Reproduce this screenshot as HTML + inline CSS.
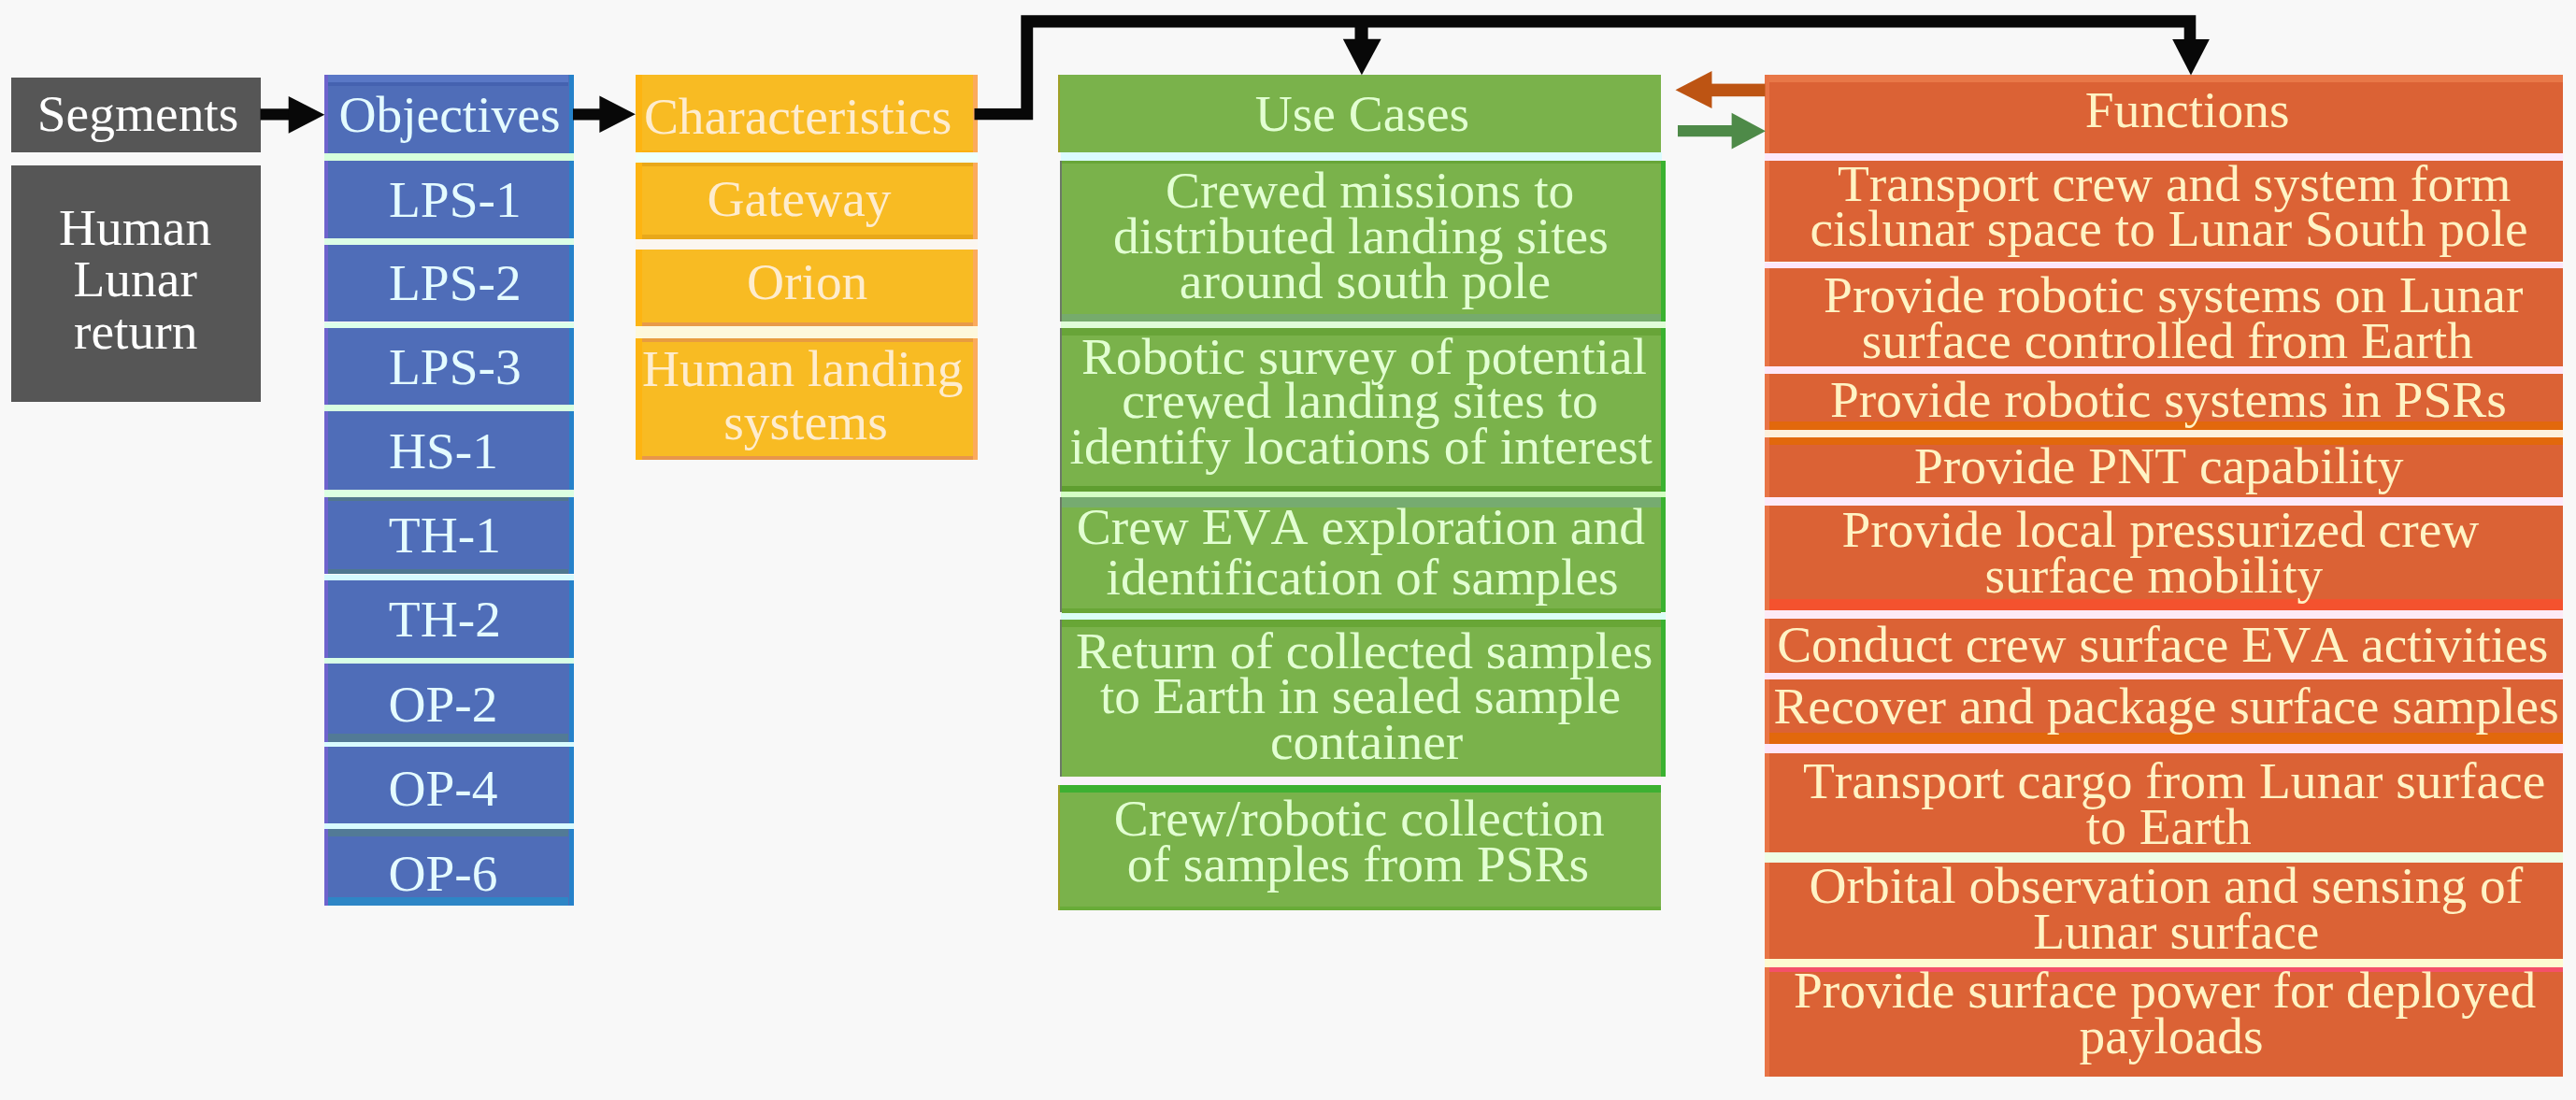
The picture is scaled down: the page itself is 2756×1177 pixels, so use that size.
<!DOCTYPE html>
<html><head><meta charset="utf-8"><title>Diagram</title>
<style>
html,body{margin:0;padding:0;}
body{width:2756px;height:1177px;background:#f8f8f8;position:relative;overflow:hidden;font-family:"Liberation Serif",serif;}
.b{position:absolute;}
.t{font-kerning:none;font-variant-ligatures:none;position:absolute;white-space:nowrap;font-size:55.45px;line-height:55.45px;height:55.45px;}
svg{position:absolute;left:0;top:0;}
</style></head><body>
<div class="b" style="left:11.8px;top:82.5px;width:267.0px;height:80.5px;background:#565656"></div>
<div class="b" style="left:11.8px;top:176.5px;width:267.2px;height:253.5px;background:#565656"></div>
<div class="b" style="left:346.5px;top:80px;width:267.1px;height:83.8px;background:#4f6db8"></div>
<div class="b" style="left:346.5px;top:172px;width:267.1px;height:82.5px;background:#4f6db8"></div>
<div class="b" style="left:346.5px;top:261.8px;width:267.1px;height:82.7px;background:#4f6db8"></div>
<div class="b" style="left:346.5px;top:351.3px;width:267.1px;height:81.7px;background:#4f6db8"></div>
<div class="b" style="left:346.5px;top:440.4px;width:267.1px;height:83.2px;background:#4f6db8"></div>
<div class="b" style="left:346.5px;top:532.4px;width:267.1px;height:82.1px;background:#4f6db8"></div>
<div class="b" style="left:346.5px;top:621px;width:267.1px;height:83.1px;background:#4f6db8"></div>
<div class="b" style="left:346.5px;top:710.4px;width:267.1px;height:83.2px;background:#4f6db8"></div>
<div class="b" style="left:346.5px;top:799.1px;width:267.1px;height:82.3px;background:#4f6db8"></div>
<div class="b" style="left:346.5px;top:886.9px;width:267.1px;height:82.2px;background:#4f6db8"></div>
<div class="b" style="left:680px;top:80.4px;width:365.5px;height:82.6px;background:#f8bb23"></div>
<div class="b" style="left:680px;top:174px;width:365.5px;height:82px;background:#f8bb23"></div>
<div class="b" style="left:680px;top:266.5px;width:365.5px;height:82.5px;background:#f8bb23"></div>
<div class="b" style="left:680px;top:362px;width:365.5px;height:130.4px;background:#f8bb23"></div>
<div class="b" style="left:1131.8px;top:80px;width:645.7px;height:83.3px;background:#7ab24b"></div>
<div class="b" style="left:1135px;top:172.2px;width:646.5px;height:171.5px;background:#7ab24b"></div>
<div class="b" style="left:1135px;top:351.4px;width:646.5px;height:174.7px;background:#7ab24b"></div>
<div class="b" style="left:1135px;top:531.8px;width:646.5px;height:123.7px;background:#7ab24b"></div>
<div class="b" style="left:1135px;top:663px;width:646.5px;height:167.9px;background:#7ab24b"></div>
<div class="b" style="left:1131.8px;top:840px;width:645.7px;height:133.6px;background:#7ab24b"></div>
<div class="b" style="left:1888.3px;top:80.4px;width:854.1px;height:83.2px;background:#db6235"></div>
<div class="b" style="left:1888.3px;top:171.8px;width:854.1px;height:108.7px;background:#db6235"></div>
<div class="b" style="left:1888.3px;top:287.3px;width:854.1px;height:104.5px;background:#db6235"></div>
<div class="b" style="left:1888.3px;top:399.6px;width:854.1px;height:60.4px;background:#db6235"></div>
<div class="b" style="left:1888.3px;top:468.2px;width:854.1px;height:64.1px;background:#db6235"></div>
<div class="b" style="left:1888.3px;top:541px;width:854.1px;height:112px;background:#db6235"></div>
<div class="b" style="left:1888.3px;top:662.4px;width:854.1px;height:57.4px;background:#db6235"></div>
<div class="b" style="left:1888.3px;top:727.4px;width:854.1px;height:68.6px;background:#db6235"></div>
<div class="b" style="left:1888.3px;top:806px;width:854.1px;height:106.4px;background:#db6235"></div>
<div class="b" style="left:1888.3px;top:922.7px;width:854.1px;height:103.0px;background:#db6235"></div>
<div class="b" style="left:1888.3px;top:1034.6px;width:854.1px;height:117.1px;background:#db6235"></div>
<div class="b" style="left:346.5px;top:163.8px;width:267.1px;height:8.2px;background:#d6ffdc"></div>
<div class="b" style="left:346.5px;top:254.5px;width:267.1px;height:7.3px;background:#dcffe6"></div>
<div class="b" style="left:346.5px;top:344.5px;width:267.1px;height:6.8px;background:#dcffea"></div>
<div class="b" style="left:346.5px;top:433px;width:267.1px;height:7.4px;background:#d8ffe2"></div>
<div class="b" style="left:346.5px;top:523.6px;width:267.1px;height:8.8px;background:#dcffe2"></div>
<div class="b" style="left:346.5px;top:614.5px;width:267.1px;height:6.5px;background:#d6fbff"></div>
<div class="b" style="left:346.5px;top:704.1px;width:267.1px;height:6.3px;background:#d8ffe6"></div>
<div class="b" style="left:346.5px;top:793.6px;width:267.1px;height:5.5px;background:#d8fbff"></div>
<div class="b" style="left:346.5px;top:881.4px;width:267.1px;height:5.5px;background:#d8fbff"></div>
<div class="b" style="left:680px;top:163px;width:365.5px;height:11px;background:#eefffb"></div>
<div class="b" style="left:680px;top:256px;width:365.5px;height:10.5px;background:#fbf6f0"></div>
<div class="b" style="left:680px;top:349px;width:365.5px;height:13px;background:#fdf8dc"></div>
<div class="b" style="left:1135px;top:163.3px;width:642.5px;height:8.9px;background:#dafbff"></div>
<div class="b" style="left:1135px;top:343.7px;width:646.5px;height:7.7px;background:#e0fdd8"></div>
<div class="b" style="left:1135px;top:526.1px;width:646.5px;height:5.7px;background:#d4ffc4"></div>
<div class="b" style="left:1135px;top:655.5px;width:646.5px;height:7.5px;background:#dafff6"></div>
<div class="b" style="left:1135px;top:830.9px;width:642.5px;height:9.1px;background:#fbf2fb"></div>
<div class="b" style="left:1888.3px;top:163.6px;width:854.1px;height:8.2px;background:#fde8fa"></div>
<div class="b" style="left:1888.3px;top:280.5px;width:854.1px;height:6.8px;background:#fde6fa"></div>
<div class="b" style="left:1888.3px;top:391.8px;width:854.1px;height:7.8px;background:#fde8fa"></div>
<div class="b" style="left:1888.3px;top:460px;width:854.1px;height:8.2px;background:#fdf0dc"></div>
<div class="b" style="left:1888.3px;top:532.3px;width:854.1px;height:8.7px;background:#fdeafa"></div>
<div class="b" style="left:1888.3px;top:653px;width:854.1px;height:9.4px;background:#fdeaf6"></div>
<div class="b" style="left:1888.3px;top:719.8px;width:854.1px;height:7.6px;background:#fde6fa"></div>
<div class="b" style="left:1888.3px;top:796px;width:854.1px;height:10px;background:#fde6fa"></div>
<div class="b" style="left:1888.3px;top:912.4px;width:854.1px;height:10.3px;background:#eefde4"></div>
<div class="b" style="left:1888.3px;top:1025.7px;width:854.1px;height:8.9px;background:#fdfbd2"></div>
<div class="b" style="left:346.5px;top:80px;width:4.0px;height:83.8px;background:#6e63cd"></div>
<div class="b" style="left:609.1px;top:80px;width:4.5px;height:83.8px;background:#2682ca"></div>
<div class="b" style="left:346.5px;top:172px;width:4.0px;height:82.5px;background:#6e63cd"></div>
<div class="b" style="left:609.1px;top:172px;width:4.5px;height:82.5px;background:#2682ca"></div>
<div class="b" style="left:346.5px;top:261.8px;width:4.0px;height:82.7px;background:#6e63cd"></div>
<div class="b" style="left:609.1px;top:261.8px;width:4.5px;height:82.7px;background:#2682ca"></div>
<div class="b" style="left:346.5px;top:351.3px;width:4.0px;height:81.7px;background:#6e63cd"></div>
<div class="b" style="left:609.1px;top:351.3px;width:4.5px;height:81.7px;background:#2682ca"></div>
<div class="b" style="left:346.5px;top:440.4px;width:4.0px;height:83.2px;background:#6e63cd"></div>
<div class="b" style="left:609.1px;top:440.4px;width:4.5px;height:83.2px;background:#2682ca"></div>
<div class="b" style="left:346.5px;top:532.4px;width:4.0px;height:82.1px;background:#6e63cd"></div>
<div class="b" style="left:609.1px;top:532.4px;width:4.5px;height:82.1px;background:#2682ca"></div>
<div class="b" style="left:346.5px;top:621px;width:4.0px;height:83.1px;background:#6e63cd"></div>
<div class="b" style="left:609.1px;top:621px;width:4.5px;height:83.1px;background:#2682ca"></div>
<div class="b" style="left:346.5px;top:710.4px;width:4.0px;height:83.2px;background:#6e63cd"></div>
<div class="b" style="left:609.1px;top:710.4px;width:4.5px;height:83.2px;background:#2682ca"></div>
<div class="b" style="left:346.5px;top:799.1px;width:4.0px;height:82.3px;background:#6e63cd"></div>
<div class="b" style="left:609.1px;top:799.1px;width:4.5px;height:82.3px;background:#2682ca"></div>
<div class="b" style="left:346.5px;top:886.9px;width:4.0px;height:82.2px;background:#6e63cd"></div>
<div class="b" style="left:609.1px;top:886.9px;width:4.5px;height:82.2px;background:#2682ca"></div>
<div class="b" style="left:680px;top:80.4px;width:7px;height:82.6px;background:#fdb412"></div>
<div class="b" style="left:1040.5px;top:80.4px;width:5.0px;height:82.6px;background:#fbab5c"></div>
<div class="b" style="left:680px;top:174px;width:7px;height:82px;background:#fdb412"></div>
<div class="b" style="left:1040.5px;top:174px;width:5.0px;height:82px;background:#fbab5c"></div>
<div class="b" style="left:680px;top:266.5px;width:7px;height:82.5px;background:#fdb412"></div>
<div class="b" style="left:1040.5px;top:266.5px;width:5.0px;height:82.5px;background:#fbab5c"></div>
<div class="b" style="left:680px;top:362px;width:7px;height:130.4px;background:#fdb412"></div>
<div class="b" style="left:1040.5px;top:362px;width:5.0px;height:130.4px;background:#fbab5c"></div>
<div class="b" style="left:1131.8px;top:80px;width:2.5px;height:83.3px;background:#a0a028"></div>
<div class="b" style="left:1777.0px;top:172.2px;width:4.5px;height:171.5px;background:#3ab230"></div>
<div class="b" style="left:1133.5px;top:172.2px;width:2.0px;height:171.5px;background:#6c7a66"></div>
<div class="b" style="left:1777.0px;top:351.4px;width:4.5px;height:174.7px;background:#3ab230"></div>
<div class="b" style="left:1133.5px;top:351.4px;width:2.0px;height:174.7px;background:#6c7a66"></div>
<div class="b" style="left:1777.0px;top:531.8px;width:4.5px;height:123.7px;background:#3ab230"></div>
<div class="b" style="left:1133.5px;top:531.8px;width:2.0px;height:123.7px;background:#6c7a66"></div>
<div class="b" style="left:1777.0px;top:663px;width:4.5px;height:167.9px;background:#3ab230"></div>
<div class="b" style="left:1133.5px;top:663px;width:2.0px;height:167.9px;background:#6c7a66"></div>
<div class="b" style="left:1131.8px;top:840px;width:2.5px;height:133.6px;background:#a0a028"></div>
<div class="b" style="left:1888.3px;top:80.4px;width:4.5px;height:83.2px;background:#e87446"></div>
<div class="b" style="left:1888.3px;top:171.8px;width:4.5px;height:108.7px;background:#e87446"></div>
<div class="b" style="left:1888.3px;top:287.3px;width:4.5px;height:104.5px;background:#e87446"></div>
<div class="b" style="left:1888.3px;top:399.6px;width:4.5px;height:60.4px;background:#e87446"></div>
<div class="b" style="left:1888.3px;top:468.2px;width:4.5px;height:64.1px;background:#e87446"></div>
<div class="b" style="left:1888.3px;top:541px;width:4.5px;height:112px;background:#e87446"></div>
<div class="b" style="left:1888.3px;top:662.4px;width:4.5px;height:57.4px;background:#e87446"></div>
<div class="b" style="left:1888.3px;top:727.4px;width:4.5px;height:68.6px;background:#e87446"></div>
<div class="b" style="left:1888.3px;top:806px;width:4.5px;height:106.4px;background:#e87446"></div>
<div class="b" style="left:1888.3px;top:922.7px;width:4.5px;height:103.0px;background:#e87446"></div>
<div class="b" style="left:1888.3px;top:1034.6px;width:4.5px;height:117.1px;background:#e87446"></div>
<div class="b" style="left:687px;top:174px;width:353.5px;height:3.8px;background:#e8a81a"></div>
<div class="b" style="left:687px;top:251px;width:353.5px;height:5px;background:#e8a81a"></div>
<div class="b" style="left:687px;top:344.5px;width:353.5px;height:4.5px;background:#e89a48"></div>
<div class="b" style="left:687px;top:362px;width:353.5px;height:3.5px;background:#e89c40"></div>
<div class="b" style="left:687px;top:488px;width:353.5px;height:4.4px;background:#e8964a"></div>
<div class="b" style="left:687px;top:160.5px;width:353.5px;height:2.5px;background:#fbb010"></div>
<div class="b" style="left:1135.5px;top:172.2px;width:641.5px;height:3.0px;background:#68a638"></div>
<div class="b" style="left:1135.5px;top:336px;width:641.5px;height:7.7px;background:#76ab6c"></div>
<div class="b" style="left:1135.5px;top:351.4px;width:641.5px;height:7.6px;background:#68a438"></div>
<div class="b" style="left:1135.5px;top:520.4px;width:641.5px;height:5.7px;background:#5f9e30"></div>
<div class="b" style="left:1135.5px;top:531.8px;width:641.5px;height:11.7px;background:#76ab70"></div>
<div class="b" style="left:1135.5px;top:651px;width:641.5px;height:4.5px;background:#68a636"></div>
<div class="b" style="left:1135.5px;top:663px;width:641.5px;height:7.5px;background:#68a636"></div>
<div class="b" style="left:1134.3px;top:840px;width:643.2px;height:7.8px;background:#3eb032"></div>
<div class="b" style="left:1134.3px;top:969.5px;width:643.2px;height:4.1px;background:#68ac38"></div>
<div class="b" style="left:1892.8px;top:80.4px;width:849.6px;height:7.6px;background:#e87848"></div>
<div class="b" style="left:1892.8px;top:451px;width:849.6px;height:9px;background:#e2680c"></div>
<div class="b" style="left:1892.8px;top:468.2px;width:849.6px;height:8.3px;background:#e2680c"></div>
<div class="b" style="left:1892.8px;top:784px;width:849.6px;height:12px;background:#e2680c"></div>
<div class="b" style="left:1892.8px;top:640.5px;width:849.6px;height:12.5px;background:#f4522e"></div>
<div class="b" style="left:1892.8px;top:1034.6px;width:849.6px;height:5.2px;background:#f4506a"></div>
<div class="b" style="left:351px;top:80px;width:257px;height:7.5px;background:#5a78c6"></div>
<div class="b" style="left:351px;top:87.5px;width:257px;height:4.0px;background:#4562b0"></div>
<div class="b" style="left:351px;top:959.6px;width:257px;height:9.5px;background:#2e86c6"></div>
<div class="b" style="left:351px;top:784.5px;width:257px;height:9.1px;background:#527a96"></div>
<div class="b" style="left:351px;top:886.9px;width:257px;height:8.6px;background:#527a96"></div>
<div class="b" style="left:351px;top:608.7px;width:257px;height:5.8px;background:#4f7890"></div>
<div class="b" style="left:351px;top:532.4px;width:257px;height:3.4px;background:#52788e"></div>
<svg width="2756" height="1177" viewBox="0 0 2756 1177">
<g fill="#080808">
<!-- Segments -> Objectives -->
<rect x="278.5" y="116.3" width="36" height="12.2"/>
<polygon points="308.7,103 347.3,122.8 308.7,142.8"/>
<!-- Objectives -> Characteristics -->
<rect x="613" y="116.3" width="34" height="12.2"/>
<polygon points="641.4,102.6 679.8,122.3 641.4,142"/>
<!-- Characteristics -> top bus -> Use Cases / Functions -->
<path d="M1042.5,116 H1092.3 V16.3 H2349.3 V45 H2336.7 V29.4 H1463.6 V45 H1449.5 V29.4 H1105.2 V128.2 H1042.5 Z"/>
<polygon points="1436.8,41.7 1477.7,41.7 1456.9,80.2"/>
<polygon points="2324.2,42 2363.9,42 2344,80.4"/>
</g>
<!-- Functions -> Use Cases (left-pointing) -->
<g fill="#bd5413">
<rect x="1829" y="89.6" width="59.5" height="13.6"/>
<polygon points="1792.5,96.2 1831.5,76 1831.5,116"/>
</g>
<!-- Use Cases -> Functions (right-pointing) -->
<g fill="#4e8a48">
<rect x="1795" y="134" width="60" height="12.2"/>
<polygon points="1889,140.2 1852.6,120.8 1852.6,159.6"/>
</g>
</svg>
<div class="t" style="left:39.78px;top:94.4px;color:#ffffff">Segments</div>
<div class="t" style="left:62.98px;top:216.0px;color:#ffffff">Human</div>
<div class="t" style="left:78.49px;top:271.3px;color:#ffffff">Lunar</div>
<div class="t" style="left:78.99px;top:327.2px;color:#ffffff">return</div>
<div class="t" style="left:362.44px;top:94.5px;color:#e4fbff">Objectives</div>
<div class="t" style="left:416.0px;top:185.5px;color:#e4fbff">LPS-1</div>
<div class="t" style="left:416.0px;top:275.3px;color:#e4fbff">LPS-2</div>
<div class="t" style="left:416.0px;top:365.3px;color:#e4fbff">LPS-3</div>
<div class="t" style="left:416.0px;top:454.8px;color:#e4fbff">HS-1</div>
<div class="t" style="left:415.79px;top:545.0px;color:#e4fbff">TH-1</div>
<div class="t" style="left:415.79px;top:634.5px;color:#e4fbff">TH-2</div>
<div class="t" style="left:415.5px;top:726.3px;color:#e4fbff">OP-2</div>
<div class="t" style="left:415.5px;top:815.5px;color:#e4fbff">OP-4</div>
<div class="t" style="left:415.5px;top:906.5px;color:#e4fbff">OP-6</div>
<div class="t" style="left:688.89px;top:96.5px;color:#feecce">Characteristics</div>
<div class="t" style="left:756.58px;top:185.2px;color:#feecce">Gateway</div>
<div class="t" style="left:799.0px;top:273.6px;color:#feecce">Orion</div>
<div class="t" style="left:687.0px;top:367.4px;color:#feecce">Human landing</div>
<div class="t" style="left:774.18px;top:424.0px;color:#feecce">systems</div>
<div class="t" style="left:1342.77px;top:94.0px;color:#e2ffd2">Use Cases</div>
<div class="t" style="left:1247.0px;top:176.4px;color:#e2ffd2">Crewed missions to</div>
<div class="t" style="left:1191.08px;top:224.8px;color:#e2ffd2">distributed landing sites</div>
<div class="t" style="left:1261.79px;top:273.0px;color:#e2ffd2">around south pole</div>
<div class="t" style="left:1156.94px;top:353.5px;color:#e2ffd2">Robotic survey of potential</div>
<div class="t" style="left:1200.19px;top:401.0px;color:#e2ffd2">crewed landing sites to</div>
<div class="t" style="left:1144.5px;top:450.0px;color:#e2ffd2">identify locations of interest</div>
<div class="t" style="left:1151.79px;top:536.2px;color:#e2ffd2">Crew EVA exploration and</div>
<div class="t" style="left:1183.5px;top:590.0px;color:#e2ffd2">identification of samples</div>
<div class="t" style="left:1151.08px;top:668.5px;color:#e2ffd2">Return of collected samples</div>
<div class="t" style="left:1176.89px;top:717.4px;color:#e2ffd2">to Earth in sealed sample</div>
<div class="t" style="left:1359.0px;top:765.5px;color:#e2ffd2">container</div>
<div class="t" style="left:1191.79px;top:848.2px;color:#e2ffd2">Crew/robotic collection</div>
<div class="t" style="left:1205.79px;top:897.0px;color:#e2ffd2">of samples from PSRs</div>
<div class="t" style="left:2230.84px;top:90.0px;color:#fff3c4">Functions</div>
<div class="t" style="left:1966.0px;top:168.5px;color:#fff3c4">Transport crew and system form</div>
<div class="t" style="left:1936.47px;top:216.7px;color:#fff3c4">cislunar space to Lunar South pole</div>
<div class="t" style="left:1951.08px;top:287.7px;color:#fff3c4">Provide robotic systems on Lunar</div>
<div class="t" style="left:1991.79px;top:336.5px;color:#fff3c4">surface controlled from Earth</div>
<div class="t" style="left:1958.0px;top:400.2px;color:#fff3c4">Provide robotic systems in PSRs</div>
<div class="t" style="left:2048.0px;top:471.0px;color:#fff3c4">Provide PNT capability</div>
<div class="t" style="left:1970.39px;top:539.0px;color:#fff3c4">Provide local pressurized crew</div>
<div class="t" style="left:2123.5px;top:588.0px;color:#fff3c4">surface mobility</div>
<div class="t" style="left:1901.13px;top:662.3px;color:#fff3c4">Conduct crew surface EVA activities</div>
<div class="t" style="left:1897.39px;top:728.0px;color:#fff3c4">Recover and package surface samples</div>
<div class="t" style="left:1929.0px;top:808.3px;color:#fff3c4">Transport cargo from Lunar surface</div>
<div class="t" style="left:2231.77px;top:857.0px;color:#fff3c4">to Earth</div>
<div class="t" style="left:1935.58px;top:920.3px;color:#fff3c4">Orbital observation and sensing of</div>
<div class="t" style="left:2175.18px;top:968.5px;color:#fff3c4">Lunar surface</div>
<div class="t" style="left:1919.0px;top:1032.3px;color:#fff3c4">Provide surface power for deployed</div>
<div class="t" style="left:2224.5px;top:1081.0px;color:#fff3c4">payloads</div>
</body></html>
